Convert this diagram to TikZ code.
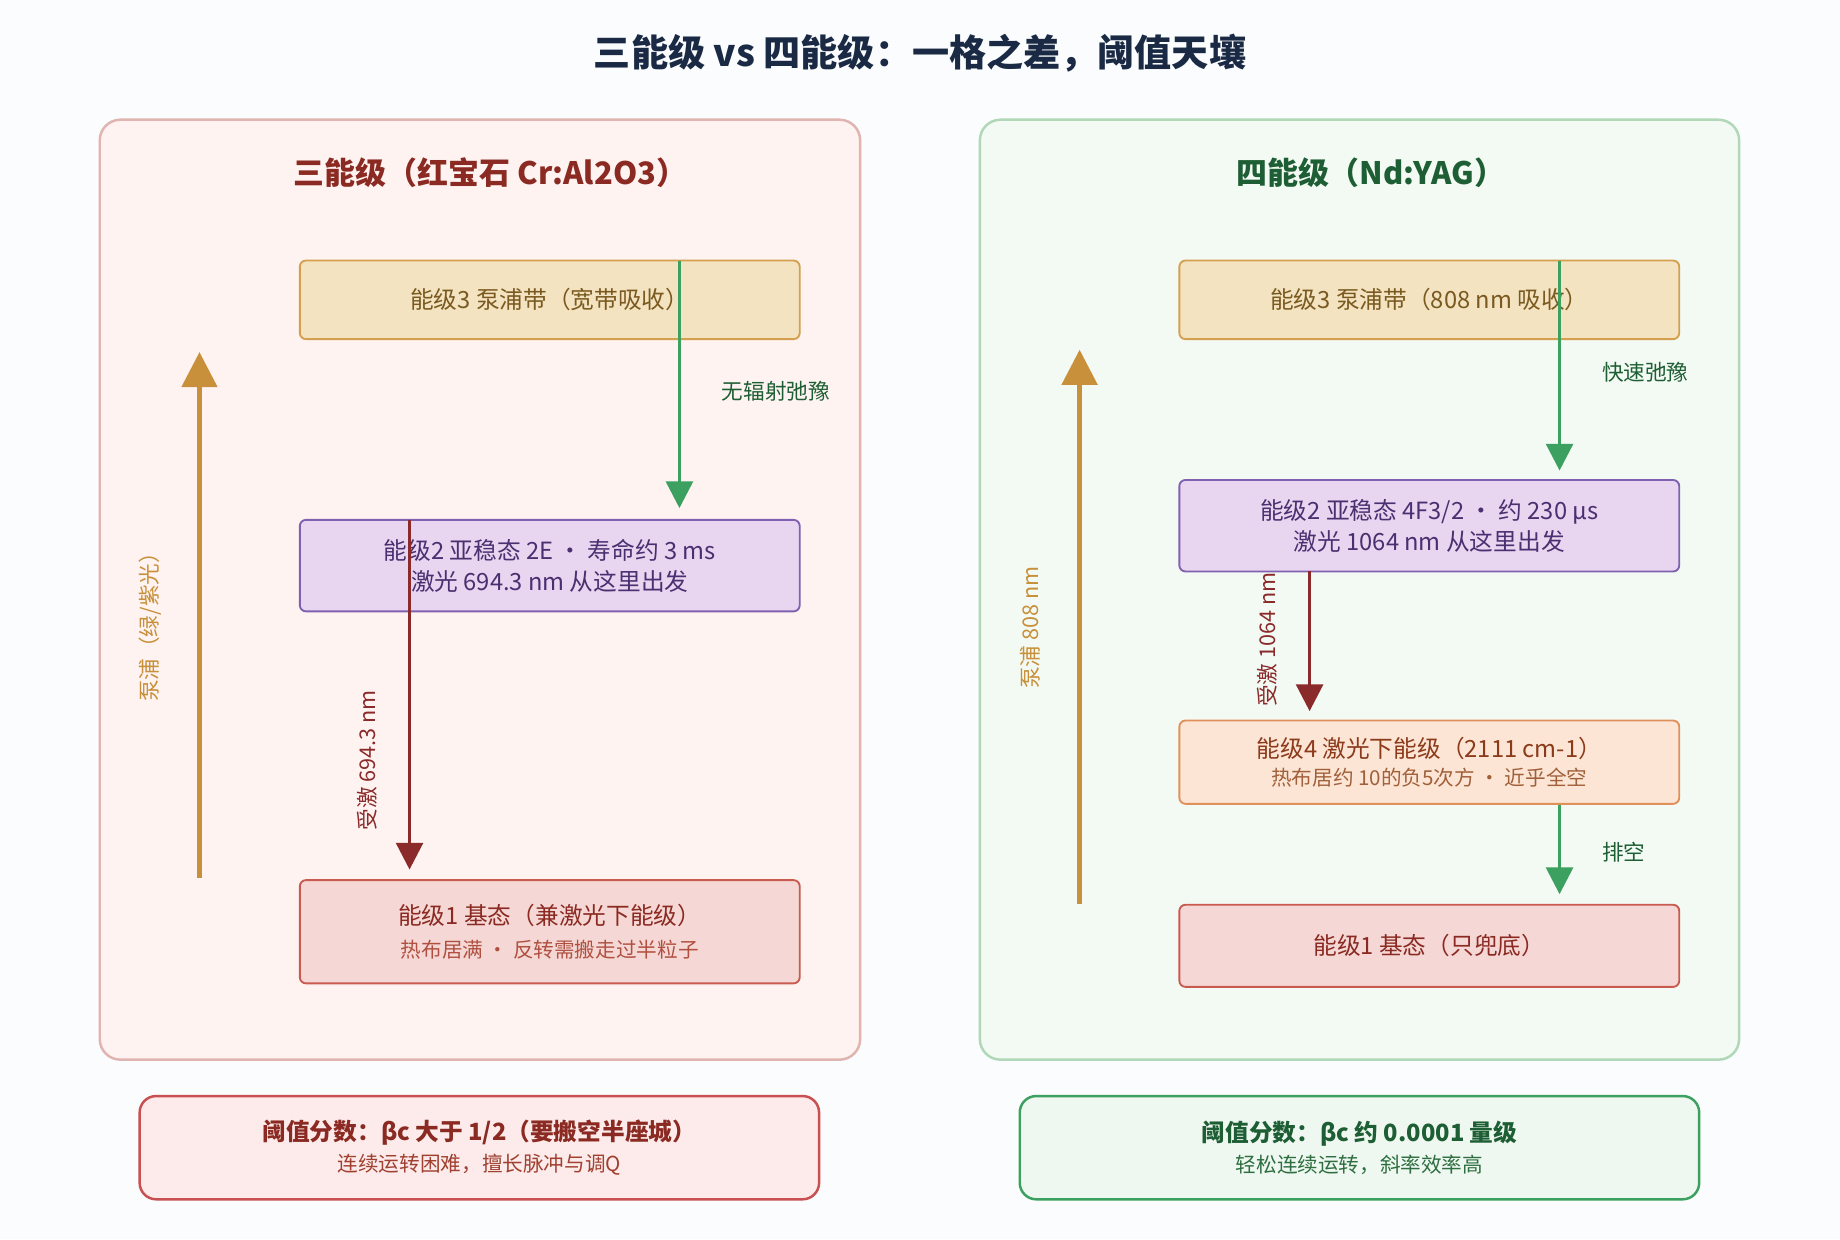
\documentclass[tikz,border=0pt]{standalone}
\usepackage{fontspec}
\setmainfont{Noto Sans CJK SC}
\usetikzlibrary{arrows.meta,positioning,calc}
\definecolor{navy}{HTML}{1A2A44}
\definecolor{pagebg}{HTML}{FBFCFD}
\definecolor{rubyred}{HTML}{8B2A22}
\definecolor{darkgreen}{HTML}{1E5E34}
\definecolor{pumpc}{HTML}{C8903A}
\definecolor{relaxc}{HTML}{3BA060}
\definecolor{lasec}{HTML}{8B2A2A}
\tikzset{
  panel/.style={draw, rounded corners=10pt, line width=1.2pt},
  level/.style={draw, rounded corners=3pt, line width=0.9pt, minimum width=426*0.02cm, align=center, inner sep=2pt},
  pump/.style={pumpc, line width=2.3pt, -{Triangle[length=17pt,width=17pt]}},
  relax/.style={relaxc, line width=1.7pt, -{Triangle[length=13pt,width=13pt]}},
  lase/.style={lasec, line width=1.7pt, -{Triangle[length=13pt,width=13pt]}},
  lbl/.style={font=\fontsize{10.5}{12}\selectfont},
  note/.style={draw, rounded corners=8pt, line width=1.2pt, minimum width=579*0.02cm, minimum height=88*0.02cm, align=center}
}
\begin{document}
\begin{tikzpicture}[x=0.02cm, y=-0.02cm]
  \fill[pagebg] (0,0) rectangle (1568,1056);
  \useasboundingbox (0,0) rectangle (1568,1056);

  \node[navy, font=\fontsize{18}{20}\selectfont\bfseries] (title) at (784,45) {三能级 vs 四能级：一格之差，阈值天壤};

  % left panel: ruby
  \draw[panel, draw={rgb,255:red,224;green,180;blue,176}, fill={rgb,255:red,254;green,243;blue,240}] (85,102) rectangle (733,903);
  \node[rubyred, font=\fontsize{15}{17}\selectfont\bfseries] (lt) at (418,147) {三能级（红宝石 Cr:Al2O3）};

  \node[level, fill={rgb,255:red,243;green,227;blue,192}, draw={rgb,255:red,212;green,160;blue,80}, minimum height=67*0.02cm, text={rgb,255:red,122;green,90;blue,32}, font=\fontsize{11.5}{13}\selectfont] (la3) at (468.5,255.5) {能级3 泵浦带（宽带吸收）};
  \node[level, fill={rgb,255:red,232;green,213;blue,240}, draw={rgb,255:red,128;green,96;blue,176}, minimum height=78*0.02cm, text={rgb,255:red,74;green,48;blue,112}, font=\fontsize{11.5}{15}\selectfont] (la2) at (468.5,482) {能级2 亚稳态 2E · 寿命约 3 ms\\激光 694.3 nm 从这里出发};
  \node[level, fill={rgb,255:red,245;green,216;blue,213}, draw={rgb,255:red,200;green,90;blue,80}, minimum height=88*0.02cm, font=\fontsize{11.5}{15}\selectfont] (la1) at (468.5,794) {\textcolor{rubyred}{能级1 基态（兼激光下能级）}\\[1pt]{\fontsize{10}{12}\selectfont\color[HTML]{B05040}热布居满 · 反转需搬走过半粒子}};

  \coordinate (pa0) at (170,748);
  \coordinate (pa1) at (170,300);
  \draw[pump] (pa0) -- (pa1);
  \node[lbl, text=pumpc, rotate=90] (pal) at (128,530) {泵浦（绿/紫光）};

  \coordinate (ra0) at (579,222);
  \coordinate (ra1) at (579,433);
  \draw[relax] (ra0) -- (ra1);
  \node[lbl, text=darkgreen, anchor=west] (ral) at (609,333) {无辐射弛豫};

  \coordinate (sa0) at (349,443);
  \coordinate (sa1) at (349,741);
  \draw[lase] (sa0) -- (sa1);
  \node[lbl, text=lasec, rotate=90] (sal) at (313,648) {受激 694.3 nm};

  % right panel: Nd:YAG
  \draw[panel, draw={rgb,255:red,176;green,216;blue,184}, fill={rgb,255:red,243;green,250;blue,243}] (835,102) rectangle (1482,903);
  \node[darkgreen, font=\fontsize{15}{17}\selectfont\bfseries] (rt) at (1168,147) {四能级（Nd:YAG）};

  \node[level, fill={rgb,255:red,243;green,227;blue,192}, draw={rgb,255:red,212;green,160;blue,80}, minimum height=67*0.02cm, text={rgb,255:red,122;green,90;blue,32}, font=\fontsize{11.5}{13}\selectfont] (lb3) at (1218,255.5) {能级3 泵浦带（808 nm 吸收）};
  \node[level, fill={rgb,255:red,232;green,213;blue,240}, draw={rgb,255:red,128;green,96;blue,176}, minimum height=78*0.02cm, text={rgb,255:red,74;green,48;blue,112}, font=\fontsize{11.5}{15}\selectfont] (lb2) at (1218,448) {能级2 亚稳态 4F3/2 · 约 230 μs\\激光 1064 nm 从这里出发};
  \node[level, fill={rgb,255:red,253;green,229;blue,213}, draw={rgb,255:red,224;green,144;blue,90}, minimum height=71*0.02cm, font=\fontsize{11.5}{14}\selectfont] (lb4) at (1218,649.5) {\textcolor[HTML]{8B3A1A}{能级4 激光下能级（2111 cm-1）}\\{\fontsize{10}{12}\selectfont\color[HTML]{A0603A}热布居约 10的负5次方 · 近乎全空}};
  \node[level, fill={rgb,255:red,245;green,216;blue,213}, draw={rgb,255:red,200;green,90;blue,80}, minimum height=70*0.02cm, text=rubyred, font=\fontsize{11.5}{13}\selectfont] (lb1) at (1218,806) {能级1 基态（只兜底）};

  \coordinate (pb0) at (920,770);
  \coordinate (pb1) at (920,298);
  \draw[pump] (pb0) -- (pb1);
  \node[lbl, text=pumpc, rotate=90] (pbl) at (878,535) {泵浦 808 nm};

  \coordinate (rb0) at (1329,222);
  \coordinate (rb1) at (1329,401);
  \draw[relax] (rb0) -- (rb1);
  \node[lbl, text=darkgreen, anchor=west] (rbl) at (1359,317) {快速弛豫};

  \coordinate (sb0) at (1116,487);
  \coordinate (sb1) at (1116,606);
  \draw[lase] (sb0) -- (sb1);
  \node[lbl, text=lasec, rotate=90] (sbl) at (1080,545) {受激 1064 nm};

  \coordinate (db1) at (1329,762);
  \draw[relax] (lb4.south -| db1) -- (db1);
  \node[lbl, text=darkgreen, anchor=west] (dbl) at (1359,726) {排空};

  % threshold notes
  \node[note, fill={rgb,255:red,252;green,235;blue,234}, draw={rgb,255:red,200;green,80;blue,80}, font=\fontsize{11.5}{15}\selectfont] (na) at (408.5,978) {\textbf{\textcolor{rubyred}{阈值分数：βc 大于 1/2（要搬空半座城）}}\\{\fontsize{10}{12}\selectfont\color[HTML]{A04030}连续运转困难，擅长脉冲与调Q}};
  \node[note, fill={rgb,255:red,238;green,248;blue,240}, draw=relaxc, font=\fontsize{11.5}{15}\selectfont] (nb) at (1158.5,978) {\textbf{\textcolor{darkgreen}{阈值分数：βc 约 0.0001 量级}}\\{\fontsize{10}{12}\selectfont\color[HTML]{2E6E40}轻松连续运转，斜率效率高}};
\end{tikzpicture}
\end{document}
